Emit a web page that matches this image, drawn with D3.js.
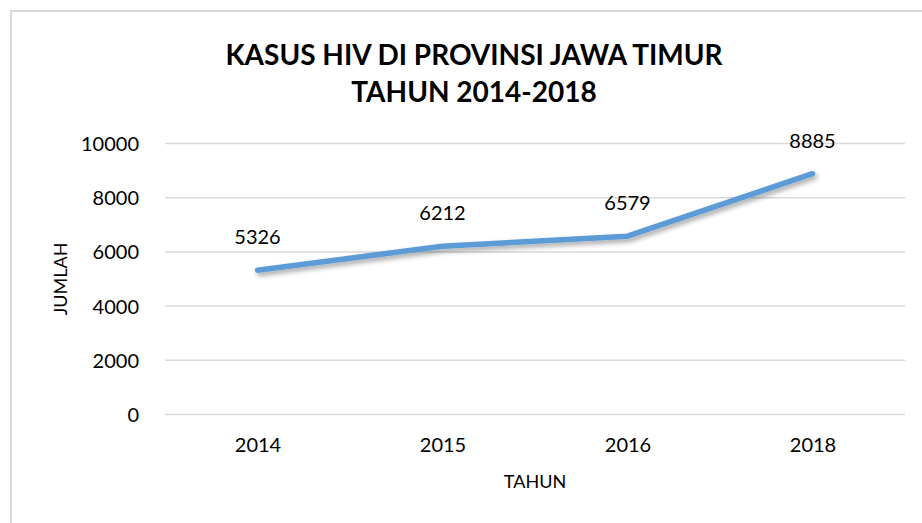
<!DOCTYPE html>
<html>
<head>
<meta charset="utf-8">
<script src="https://cdn.jsdelivr.net/npm/d3@7"></script>
<style>
  body { margin: 0; background: #fff; }
  svg text { font-family: Lato, "Open Sans", sans-serif; fill: #000; }
</style>
</head>
<body>
<svg id="chart" width="922" height="523"></svg>
<script>
const years = ["2014", "2015", "2016", "2018"];
const cases = [5326, 6212, 6579, 8885];
const yTicks = [0, 2000, 4000, 6000, 8000, 10000];
const titleLines = ["KASUS HIV DI PROVINSI JAWA TIMUR", "TAHUN 2014-2018"];

const svg = d3.select("#chart");
const [plotL, plotR, plotT, plotB] = [165, 905, 143.5, 414.5];

// chart frame (only top/left visible in the crop)
svg.append("rect")
  .attr("x", 11).attr("y", 11)
  .attr("width", 960).attr("height", 560)
  .attr("fill", "none").attr("stroke", "#d9d9d9").attr("stroke-width", 2);

const x = d3.scalePoint().domain(years).range([plotL, plotR]).padding(0.5);
const y = d3.scaleLinear().domain([0, 10000]).range([plotB, plotT]);

// gridlines
svg.append("g").selectAll("line").data(yTicks).join("line")
  .attr("x1", plotL).attr("x2", plotR)
  .attr("y1", d => y(d)).attr("y2", d => y(d))
  .attr("stroke", "#d9d9d9").attr("stroke-width", 1.5);

// y axis labels
let yAxis = svg.append("g")
  .attr("transform", `translate(${plotL - 23},0)`)
  .call(d3.axisLeft(y).tickValues(yTicks).tickSize(0).tickFormat(d3.format("d")));
yAxis.select(".domain").remove();
yAxis.selectAll("text").attr("font-size", 20).attr("dy", "0.35em");

// x axis labels
let xAxis = svg.append("g")
  .attr("transform", `translate(0,${plotB + 20})`)
  .call(d3.axisBottom(x).tickSize(0));
xAxis.select(".domain").remove();
xAxis.selectAll("text").attr("font-size", 20).attr("dy", "0.7em");

// shadow for the line
let defs = svg.append("defs");
let f = defs.append("filter").attr("id", "shadow")
  .attr("x", "-10%").attr("y", "-50%").attr("width", "120%").attr("height", "200%");
f.append("feDropShadow").attr("dx", 2).attr("dy", 3).attr("stdDeviation", 2.5)
  .attr("flood-color", "#000").attr("flood-opacity", 0.35);

let line = d3.line().x((d, i) => x(years[i])).y(d => y(d));
svg.append("path")
  .datum(cases)
  .attr("d", line)
  .attr("fill", "none")
  .attr("stroke", "#5b9bd5")
  .attr("stroke-width", 5.5)
  .attr("stroke-linecap", "round")
  .attr("stroke-linejoin", "round")
  .attr("filter", "url(#shadow)");

// data labels
svg.append("g").selectAll("text").data(cases).join("text")
  .attr("x", (d, i) => x(years[i]))
  .attr("y", d => y(d) - 26)
  .attr("text-anchor", "middle")
  .attr("font-size", 20)
  .text(d => d);

// title
svg.append("g").selectAll("text").data(titleLines).join("text")
  .attr("x", 474)
  .attr("y", (d, i) => 65 + i * 37)
  .attr("text-anchor", "middle")
  .attr("font-size", 28)
  .attr("font-weight", "bold")
  .text(d => d);

// axis titles
svg.append("text")
  .attr("x", (plotL + plotR) / 2).attr("y", 488)
  .attr("text-anchor", "middle").attr("font-size", 18)
  .text("TAHUN");
svg.append("text")
  .attr("transform", `translate(67,${(plotT + plotB) / 2}) rotate(-90)`)
  .attr("text-anchor", "middle").attr("font-size", 18)
  .text("JUMLAH");
</script>
</body>
</html>
